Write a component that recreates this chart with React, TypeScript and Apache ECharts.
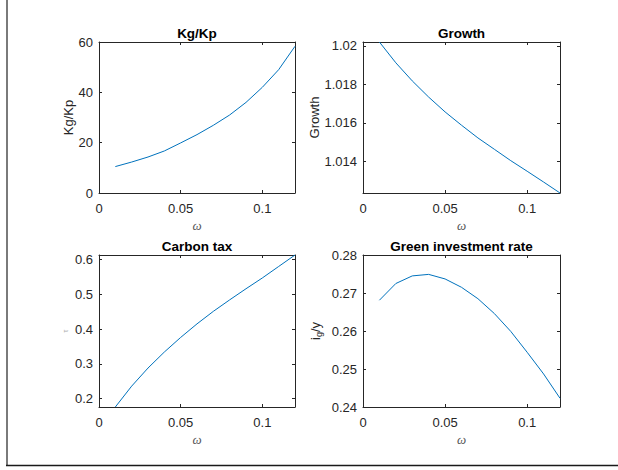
import React, { useEffect, useRef } from "react";
import * as echarts from "echarts";

const omega = [0.01, 0.02, 0.03, 0.04, 0.05, 0.06, 0.07, 0.08, 0.09, 0.1, 0.11, 0.12];
const kgKp = [10.5, 12.3, 14.3, 16.7, 19.9, 23.2, 26.9, 31.0, 36.0, 42.0, 49.0, 58.3];
const growth = [1.0202, 1.01912, 1.01818, 1.01734, 1.01657, 1.01588, 1.01522, 1.01463, 1.01404, 1.01349, 1.01293, 1.01236];
const carbonTax = [0.176, 0.236, 0.288, 0.334, 0.376, 0.415, 0.451, 0.484, 0.516, 0.547, 0.58, 0.613];
const greenRate = [0.2681, 0.2725, 0.2745, 0.2749, 0.2737, 0.2715, 0.2685, 0.2646, 0.2599, 0.2544, 0.2487, 0.2423];

const xTicks = [0, 0.05, 0.1];
const kgTicks = [0, 20, 40, 60];
const growthTicks = [1.014, 1.016, 1.018, 1.02];
const taxTicks = [0.2, 0.3, 0.4, 0.5, 0.6];
const greenTicks = [0.24, 0.25, 0.26, 0.27, 0.28];

const FONT = "'Liberation Sans', Arial, Helvetica, sans-serif";
const AX = "#262626";

export default function App() {
  const ref = useRef<HTMLDivElement>(null);
  useEffect(() => {
    if (!ref.current) return;
    const chart = echarts.init(ref.current, undefined, { renderer: "svg" });

    const panels = [
      { title: "Kg/Kp", ylabel: "Kg/Kp", data: kgKp, min: 0, max: 60, ticks: kgTicks, grid: { left: 99, top: 42, width: 196, height: 151 }, nameGap: 22 },
      { title: "Growth", ylabel: "Growth", data: growth, min: Math.min(...growth), max: Math.max(...growth), ticks: growthTicks, grid: { left: 363, top: 42, width: 197, height: 151 }, nameGap: 41 },
      { title: "Carbon tax", ylabel: "τ", data: carbonTax, min: Math.min(...carbonTax), max: Math.max(...carbonTax), ticks: taxTicks, grid: { left: 99, top: 255, width: 196, height: 152 }, nameGap: 30 },
      { title: "Green investment rate", ylabel: "{a|i}{b|g}{a|/y}", data: greenRate, min: 0.24, max: 0.28, ticks: greenTicks, grid: { left: 363, top: 255, width: 197, height: 152 }, nameGap: 40 },
    ];

    const grids: any[] = [];
    const xAxes: any[] = [];
    const yAxes: any[] = [];
    const series: any[] = [];
    const graphics: any[] = [];

    const mkLine = () => ({ show: true, onZero: false, lineStyle: { color: AX, width: 1 } });
    const mkTick = (vals: number[]) => ({ show: true, inside: true, length: 3, lineStyle: { color: AX, width: 1 }, customValues: vals });

    panels.forEach((p, i) => {
      grids.push({ ...p.grid, containLabel: false, show: false });
      xAxes.push({
        type: "value", gridIndex: i, position: "bottom", min: 0, max: 0.12,
        axisLine: mkLine(), splitLine: { show: false },
        axisTick: mkTick(xTicks),
        axisLabel: { show: true, color: AX, fontSize: 13, fontFamily: FONT, margin: 9, customValues: xTicks },
        name: "ω", nameLocation: "middle", nameGap: 26,
        nameTextStyle: { color: "#555", fontSize: 13, fontStyle: "italic", fontFamily: "'Liberation Serif', 'DejaVu Serif', serif" },
      });
      xAxes.push({
        type: "value", gridIndex: i, position: "top", min: 0, max: 0.12,
        axisLine: mkLine(), splitLine: { show: false },
        axisTick: mkTick(xTicks),
        axisLabel: { show: false, customValues: xTicks },
      });
      const isGreen = i === 3;
      yAxes.push({
        type: "value", gridIndex: i, position: "left", min: p.min, max: p.max,
        axisLine: mkLine(), splitLine: { show: false },
        axisTick: mkTick(p.ticks),
        axisLabel: { show: true, color: AX, fontSize: 13, fontFamily: FONT, margin: 6, customValues: p.ticks },
        name: p.ylabel, nameLocation: "middle", nameGap: p.nameGap,
        nameTextStyle: isGreen
          ? {
              color: AX, fontFamily: FONT, fontSize: 13,
              rich: {
                a: { fontSize: 13, fontFamily: FONT, color: AX, lineHeight: 16 },
                b: { fontSize: 9, fontFamily: FONT, color: AX, lineHeight: 16, padding: [7, 0, 0, 0] },
              },
            }
          : i === 2
            ? { color: "#aaa", fontSize: 7, fontFamily: FONT }
            : { color: AX, fontSize: 13, fontFamily: FONT },
      });
      yAxes.push({
        type: "value", gridIndex: i, position: "right", min: p.min, max: p.max,
        axisLine: mkLine(), splitLine: { show: false },
        axisTick: mkTick(p.ticks),
        axisLabel: { show: false, customValues: p.ticks },
      });
      series.push({
        type: "line", xAxisIndex: 2 * i, yAxisIndex: 2 * i,
        data: omega.map((x, k) => [x, p.data[k]]),
        symbol: "none", showSymbol: false,
        lineStyle: { color: "#0072BD", width: 1 },
        clip: false,
      });
      graphics.push({
        type: "text",
        x: p.grid.left + p.grid.width / 2,
        y: p.grid.top - 9,
        style: { text: p.title, textAlign: "center", textVerticalAlign: "middle", font: `bold 13.5px ${FONT}`, fill: "#000" },
      });
    });

    graphics.push({ type: "line", shape: { x1: 7, y1: 0, x2: 7, y2: 465 }, style: { stroke: "#7a7a7a", lineWidth: 2 } });
    graphics.push({ type: "line", shape: { x1: 6, y1: 465.5, x2: 618, y2: 465.5 }, style: { stroke: "#1a1a1a", lineWidth: 1.5 } });

    chart.setOption({
      animation: false,
      backgroundColor: "#ffffff",
      grid: grids,
      xAxis: xAxes,
      yAxis: yAxes,
      series,
      graphic: graphics,
    });
    return () => chart.dispose();
  }, []);
  return <div ref={ref} style={{ position: "fixed", left: 0, top: 0, width: 618, height: 470 }} />;
}
